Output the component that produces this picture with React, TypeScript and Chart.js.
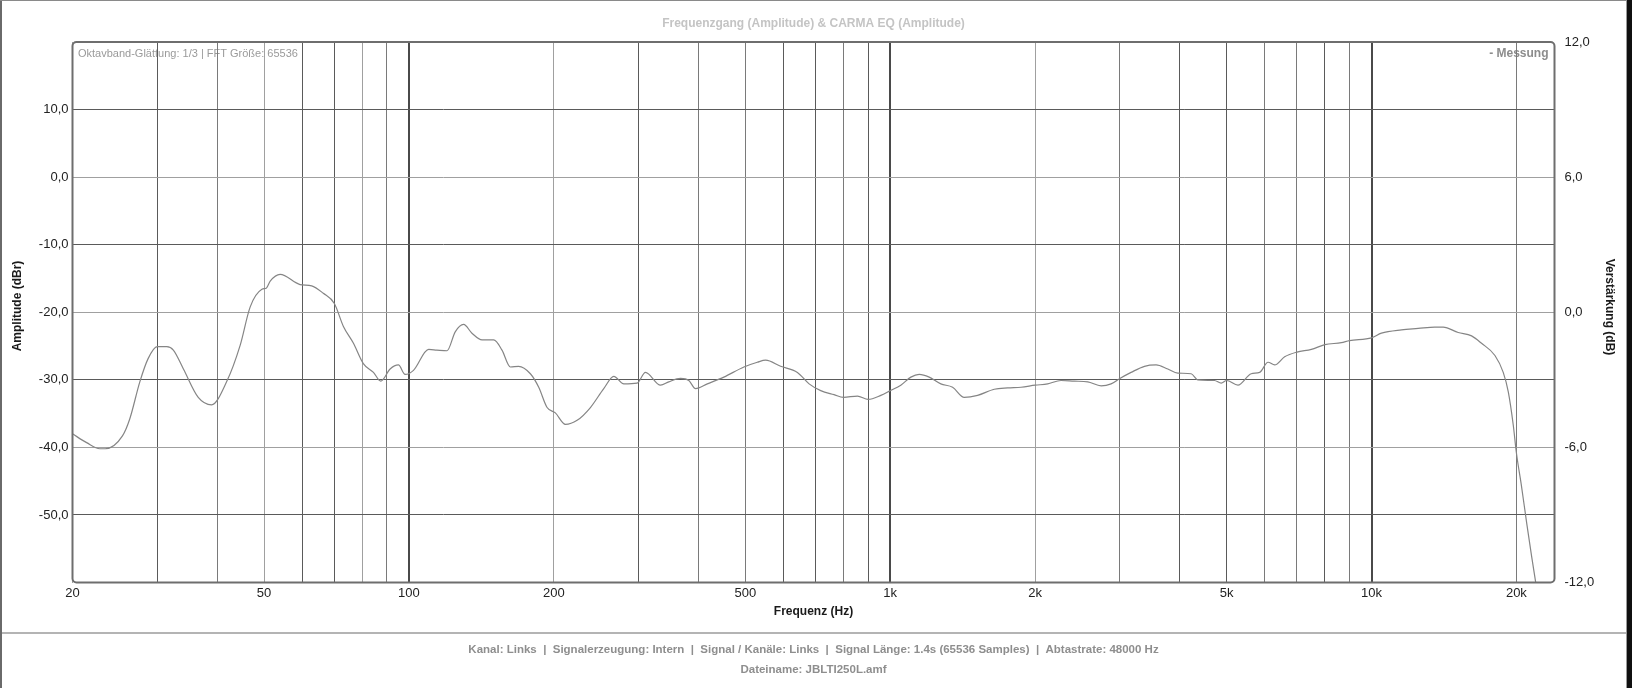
import React, { useEffect, useRef } from 'react';
import { Chart, registerables } from 'chart.js';

Chart.register(...registerables);

// ---- data ----
const frequencies = [
  20.0, 21.4, 22.8, 23.4, 25.4, 26.3, 27.6, 28.7, 30.0, 31.4, 32.4, 34.0, 36.5, 38.9, 41.8, 44.6, 46.8, 49.5, 50.6, 51.5,
  54.0, 59.4, 62.8, 66.4, 70.0, 73.1, 76.7, 80.4, 84.4, 87.4, 91.4, 95.1, 98.2, 102.2, 109.9, 114.3, 120, 124.8, 129.9, 135.2,
  141.9, 150, 156.1, 162.5, 169, 178.8, 186.1, 193.7, 201.5, 211.4, 223.6, 238.3, 254, 266.5, 279.6, 297.9, 310.1, 333.3, 346.7, 366.7,
  381.6, 394, 416.9, 451.2, 496.6, 529.6, 551, 592, 641.5, 678.4, 717.2, 764.3, 800, 855, 900, 956, 1000, 1052, 1104, 1149,
  1205, 1274, 1348, 1425, 1519, 1645, 1754, 1870, 2000, 2124, 2264, 2413, 2573, 2743, 2877, 3000, 3166, 3375, 3568, 3774,
  3959, 4220, 4357, 4718, 4873, 5000, 5278, 5625, 5856, 6095, 6292, 6600, 7000, 7499, 8000, 8657, 9000, 10000, 10486, 11540,
  12500, 13540, 14090, 15140, 16140, 16930, 18050, 18780, 19240, 19710, 20000, 20500, 21010, 21520, 21960,
];
const amplitudes = [
  -38.0, -39.3, -40.2, -40.2, -38.3, -35.8, -30.3, -26.9, -25.1, -25.1, -25.6, -28.4, -32.6, -33.7, -30.3, -24.9, -19.2, -16.6, -16.4, -15.4,
  -14.4, -15.9, -16.1, -17.2, -18.7, -22.1, -24.6, -27.6, -28.9, -30.2, -28.4, -27.8, -29.2, -28.6, -25.5, -25.6, -25.7, -22.9, -21.8, -23.1,
  -24.1, -24.1, -25.6, -28.1, -28.0, -29.1, -31.1, -34.1, -34.9, -36.6, -36.0, -34.1, -31.3, -29.5, -30.6, -30.5, -28.9, -30.8, -30.3, -29.8,
  -30.1, -31.3, -30.6, -29.6, -28.1, -27.4, -27.1, -28.0, -28.9, -30.6, -31.6, -32.2, -32.6, -32.4, -32.9, -32.3, -31.6, -30.8, -29.6, -29.2,
  -29.6, -30.6, -31.1, -32.6, -32.3, -31.4, -31.2, -31.1, -30.8, -30.6, -30.1, -30.2, -30.3, -30.9, -30.6, -29.8, -28.9, -28.0, -27.8, -28.4,
  -29.0, -29.1, -30.0, -30.1, -30.5, -30.1, -30.8, -29.1, -28.9, -27.4, -27.8, -26.6, -25.9, -25.5, -24.8, -24.5, -24.2, -23.8, -23.1, -22.6,
  -22.4, -22.2, -22.2, -23.0, -23.5, -24.6, -26.4, -28.9, -31.8, -36.8, -40.8, -45.8, -51.2, -56.2, -60.2,
];

const xGridValues = [
  20, 30, 40, 50, 60, 70, 80, 90, 100, 200, 300, 400, 500, 600, 700, 800, 900,
  1000, 2000, 3000, 4000, 5000, 6000, 7000, 8000, 9000, 10000, 20000,
];
const xLabelValues = [20, 50, 100, 200, 500, 1000, 2000, 5000, 10000, 20000];
const yLeftTicks = [10, 0, -10, -20, -30, -40, -50];
const yRightTicks = [12, 6, 0, -6, -12];

const heavyX = [100, 1000, 10000];
const darkX = [30, 60, 70, 300, 600, 700, 900, 4000, 5000, 8000];
const mediumX = [40, 90, 400, 500, 800, 3000, 6000, 7000, 9000, 20000];
const darkY = [10, -10, -30, -50];

const titleText = 'Frequenzgang (Amplitude) & CARMA EQ (Amplitude)';
const infoText = 'Oktavband-Glättung: 1/3 | FFT Größe: 65536';
const legendText = '- Messung';
const xTitle = 'Frequenz (Hz)';
const yTitle = 'Amplitude (dBr)';
const y2Title = 'Verstärkung (dB)';
const footer1 = 'Kanal: Links  |  Signalerzeugung: Intern  |  Signal / Kanäle: Links  |  Signal Länge: 1.4s (65536 Samples)  |  Abtastrate: 48000 Hz';
const footer2 = 'Dateiname: JBLTI250L.amf';

const FONT = "'Liberation Sans', Arial, Helvetica, sans-serif";
const W = 1632;
const H = 688;

const fmtDb = (v: number) => v.toFixed(1).replace('.', ',');
const fmtHz = (v: number) => (v >= 1000 ? `${v / 1000}k` : `${v}`);

const decorPlugin = {
  id: 'decor',
  beforeDraw(chart: any) {
    const ctx = chart.ctx as CanvasRenderingContext2D;
    const a = chart.chartArea;
    ctx.save();
    ctx.fillStyle = '#ffffff';
    ctx.fillRect(0, 0, W, H);
    // info text in plot
    ctx.font = `11px ${FONT}`;
    ctx.fillStyle = '#9a9a9a';
    ctx.textAlign = 'left';
    ctx.textBaseline = 'middle';
    ctx.fillText(infoText, a.left + 5.5, 54);
    ctx.font = `bold 12px ${FONT}`;
    ctx.fillStyle = '#8c8c8c';
    ctx.textAlign = 'right';
    ctx.fillText(legendText, a.right - 6, 53.5);
    ctx.restore();
  },
  afterDraw(chart: any) {
    const ctx = chart.ctx as CanvasRenderingContext2D;
    const a = chart.chartArea;
    ctx.save();
    // plot border (rounded)
    ctx.strokeStyle = '#6e6e6e';
    ctx.lineWidth = 2;
    const r = 4;
    ctx.beginPath();
    ctx.moveTo(a.left + r, a.top);
    ctx.lineTo(a.right - r, a.top);
    ctx.arcTo(a.right, a.top, a.right, a.top + r, r);
    ctx.lineTo(a.right, a.bottom - r);
    ctx.arcTo(a.right, a.bottom, a.right - r, a.bottom, r);
    ctx.lineTo(a.left + r, a.bottom);
    ctx.arcTo(a.left, a.bottom, a.left, a.bottom - r, r);
    ctx.lineTo(a.left, a.top + r);
    ctx.arcTo(a.left, a.top, a.left + r, a.top, r);
    ctx.closePath();
    ctx.stroke();

    // title
    const cx = (a.left + a.right) / 2;
    ctx.textAlign = 'center';
    ctx.textBaseline = 'middle';
    ctx.font = `bold 12px ${FONT}`;
    ctx.fillStyle = '#c4c4c4';
    ctx.fillText(titleText, cx, 23.5);

    // x title
    ctx.fillStyle = '#1a1a1a';
    ctx.fillText(xTitle, cx, 611.5);

    // y titles
    ctx.save();
    ctx.translate(18, 306);
    ctx.rotate(-Math.PI / 2);
    ctx.fillText(yTitle, 0, 0);
    ctx.restore();
    ctx.save();
    ctx.translate(1609, 307);
    ctx.rotate(Math.PI / 2);
    ctx.fillText(y2Title, 0, 0);
    ctx.restore();

    // footer
    ctx.fillStyle = '#8e8e8e';
    ctx.font = `bold 11.5px ${FONT}`;
    ctx.fillText(footer1, cx, 650);
    ctx.fillText(footer2, cx, 669.5);

    // frame
    ctx.fillStyle = '#b4b4b4';
    ctx.fillRect(0, 632, 1626, 2);
    ctx.fillStyle = '#6a6a6a';
    ctx.fillRect(0, 0, 2, H);
    ctx.fillStyle = '#8a8a8a';
    ctx.fillRect(0, 0, 1627, 1);
    ctx.fillStyle = '#9a9a9a';
    ctx.fillRect(1626, 0, 1, H);
    ctx.fillStyle = '#101010';
    ctx.fillRect(1627, 0, 5, H);
    ctx.restore();
  },
};

export default function App() {
  const canvasRef = useRef<HTMLCanvasElement | null>(null);

  useEffect(() => {
    const canvas = canvasRef.current;
    if (!canvas) return;
    const points = frequencies.map((f, i) => ({ x: f, y: amplitudes[i] }));
    const chart = new Chart(canvas, {
      type: 'line',
      data: {
        datasets: [
          {
            label: 'Messung',
            data: points,
            borderColor: '#858585',
            borderWidth: 1.2,
            pointRadius: 0,
            cubicInterpolationMode: 'monotone',
            yAxisID: 'y',
            xAxisID: 'x',
          },
        ],
      },
      options: {
        animation: false,
        responsive: false,
        devicePixelRatio: 1,
        layout: { padding: { top: 42, left: 0, right: 5, bottom: 0 } },
        plugins: {
          legend: { display: false },
          tooltip: { enabled: false },
          title: { display: false },
        },
        scales: {
          x: {
            type: 'logarithmic',
            position: 'bottom',
            min: 20,
            max: 24000,
            afterBuildTicks: (scale: any) => {
              scale.ticks = xGridValues.map((v) => ({ value: v }));
            },
            afterFit: (scale: any) => {
              scale.height = 105.5;
            },
            border: { display: false },
            grid: {
              drawTicks: false,
              color: (ctx: any) => {
                const v = ctx.tick ? ctx.tick.value : 0;
                if (heavyX.includes(v)) return '#4a4a4a';
                if (darkX.includes(v)) return '#5a5a5a';
                if (mediumX.includes(v)) return '#7a7a7a';
                return '#a0a0a0';
              },
              lineWidth: (ctx: any) => {
                const v = ctx.tick ? ctx.tick.value : 0;
                return heavyX.includes(v) ? 2 : 1;
              },
            },
            ticks: {
              autoSkip: false,
              maxRotation: 0,
              minRotation: 0,
              padding: 3,
              color: '#222222',
              font: { family: FONT, size: 13 },
              callback: (value: any) => (xLabelValues.includes(Number(value)) ? fmtHz(Number(value)) : ''),
            },
          },
          y: {
            type: 'linear',
            position: 'left',
            min: -60,
            max: 20,
            afterBuildTicks: (scale: any) => {
              scale.ticks = yLeftTicks.map((v) => ({ value: v }));
            },
            afterFit: (scale: any) => {
              scale.width = 72.5;
            },
            border: { display: false },
            grid: {
              drawTicks: false,
              color: (ctx: any) => (ctx.tick && darkY.includes(ctx.tick.value) ? '#5a5a5a' : '#a0a0a0'),
              lineWidth: 1,
            },
            ticks: {
              padding: 4,
              color: '#222222',
              font: { family: FONT, size: 13 },
              callback: (value: any) => fmtDb(Number(value)),
            },
          },
          y2: {
            type: 'linear',
            position: 'right',
            min: -12,
            max: 12,
            afterBuildTicks: (scale: any) => {
              scale.ticks = yRightTicks.map((v) => ({ value: v }));
            },
            afterFit: (scale: any) => {
              scale.width = 72.5;
            },
            border: { display: false },
            grid: { display: false, drawTicks: false },
            ticks: {
              padding: 10,
              color: '#222222',
              font: { family: FONT, size: 13 },
              callback: (value: any) => fmtDb(Number(value)),
            },
          },
        },
      },
      plugins: [decorPlugin],
    } as any);
    return () => chart.destroy();
  }, []);

  return (
    <div style={{ position: 'fixed', left: 0, top: 0, width: W, height: H, background: '#fff' }}>
      <canvas ref={canvasRef} width={W} height={H} style={{ display: 'block', width: W, height: H }} />
    </div>
  );
}
